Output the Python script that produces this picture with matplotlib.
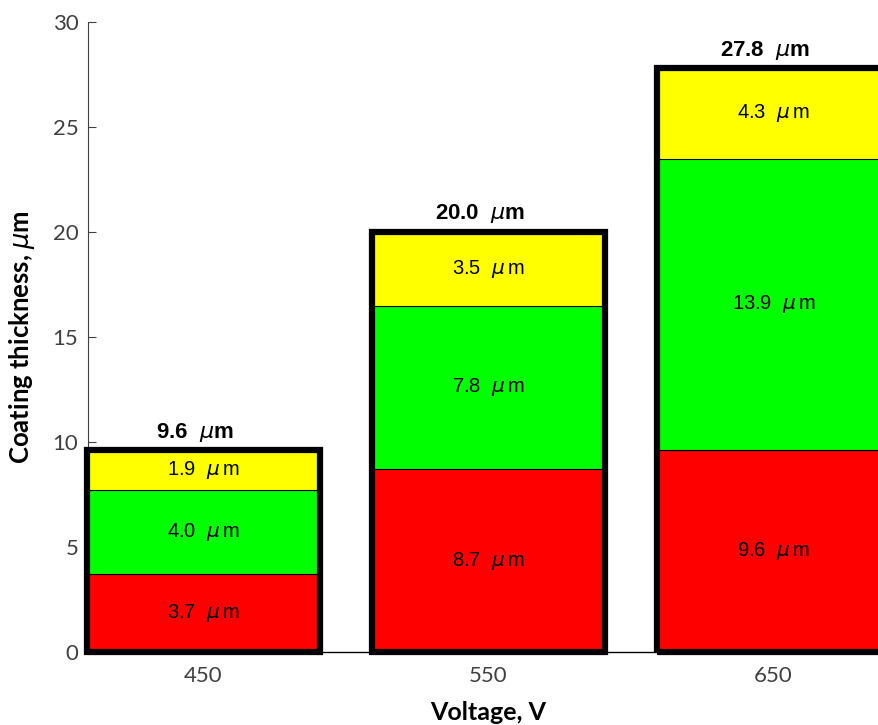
import matplotlib.pyplot as plt
import numpy as np

plt.rcParams['font.family'] = ['Liberation Sans', 'DejaVu Sans']
plt.rcParams['mathtext.fontset'] = 'dejavusans'

voltages = [450, 550, 650]
bottom_layer = [3.7, 8.7, 9.6]   # red
middle_layer = [4.0, 7.8, 13.9]  # green
top_layer = [1.9, 3.5, 4.3]      # yellow
totals = [9.6, 20.0, 27.8]

colors = ['#ff0000', '#00ff00', '#ffff00']
width = 82

fig = plt.figure(figsize=(8.79, 7.25), dpi=100)
# axes runs past the right edge like the original crop
ax = fig.add_axes([88/879, 73/725, 913/879, 630/725])

x = np.array(voltages)
b = np.zeros(3)
for vals, c in zip([bottom_layer, middle_layer, top_layer], colors):
    vals = np.array(vals)
    ax.bar(x, vals, width, bottom=b, color=c, edgecolor='black', linewidth=0.8, zorder=2)
    for xi, bi, vi in zip(x, b, vals):
        ax.text(xi, bi + vi/2, f'{vi:.1f}  $\\mu\\,$m', ha='center', va='center', fontsize=14.5, zorder=4)
    b = b + vals

# thick outline around each stack
ax.bar(x, b, width, fill=False, edgecolor='black', linewidth=4.5, zorder=3, clip_on=False)
for xi, t in zip(x, totals):
    ax.text(xi - 3, t + 0.6, f'{t:.1f}  $\\mu$m', ha='center', va='baseline', fontsize=16, fontweight='bold')

ax.set_xlim(409.5, 409.5 + 913/2.85)
ax.set_ylim(0, 30)
ax.set_yticks(range(0, 31, 5))
ax.set_xticks(voltages)
ax.tick_params(axis='y', direction='in', length=6, labelsize=16, labelcolor='#404040', color='#404040', pad=7)
ax.tick_params(axis='x', length=0, labelsize=16, labelcolor='#404040', pad=10)
for lab in ax.get_xticklabels() + ax.get_yticklabels():
    lab.set_family(['Lato', 'DejaVu Sans'])
for s in ['top', 'right']:
    ax.spines[s].set_visible(False)
ax.spines['left'].set_color('#404040')
ax.spines['bottom'].set_color('black')
ax.spines['bottom'].set_linewidth(1)

ax.set_ylabel('Coating thickness, $\\mu$m', fontsize=18.5, fontweight='bold', family=['Lato', 'DejaVu Sans'])
ax.set_xlabel('Voltage, V', fontsize=18, fontweight='bold', family=['Lato', 'DejaVu Sans'])
ax.xaxis.set_label_coords((550 - 409.5) / (913/2.85), -0.078)
ax.yaxis.set_label_coords(-0.056, 0.5)

plt.savefig('out.png', dpi=100)
